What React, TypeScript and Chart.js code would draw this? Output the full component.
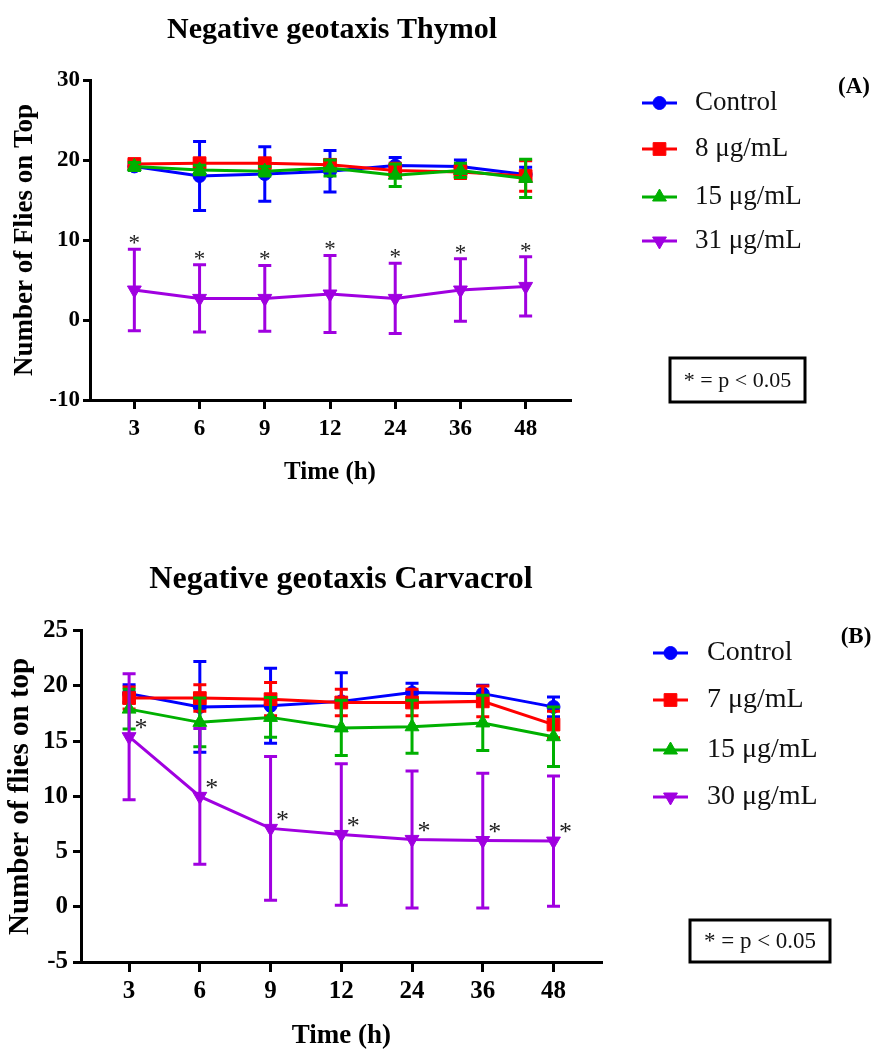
import React, { useEffect, useRef } from 'react';
import { Chart, registerables } from 'chart.js';
import { drawPoint } from 'chart.js/helpers';

Chart.register(...registerables);

// ---------- data ----------
const timeLabels = ['3', '6', '9', '12', '24', '36', '48'];

const thymolNames = ['Control', '8 μg/mL', '15 μg/mL', '31 μg/mL'];
const thymolControl = [19.2, 18.0, 18.25, 18.6, 19.3, 19.2, 18.2];
const thymolControlSd = [0.5, 4.3, 3.4, 2.6, 1.0, 0.8, 0.9];
const thymol8 = [19.5, 19.6, 19.6, 19.4, 18.7, 18.5, 18.0];
const thymol8Sd = [0.4, 0.5, 0.5, 0.6, 0.9, 0.8, 1.9];
const thymol15 = [19.2, 18.75, 18.6, 19.0, 18.1, 18.7, 17.7];
const thymol15Sd = [0.5, 0.6, 0.6, 1.0, 1.4, 0.9, 2.4];
const thymol31 = [3.75, 2.7, 2.7, 3.25, 2.7, 3.75, 4.2];
const thymol31Sd = [5.1, 4.2, 4.1, 4.8, 4.4, 3.9, 3.7];

const carvacrolNames = ['Control', '7 μg/mL', '15 μg/mL', '30 μg/mL'];
const carvacrolControl = [19.3, 18.1, 18.2, 18.6, 19.4, 19.3, 18.1];
const carvacrolControlSd = [0.8, 4.1, 3.4, 2.6, 0.85, 0.75, 0.9];
const carvacrol7 = [18.9, 18.9, 18.8, 18.5, 18.5, 18.6, 16.5];
const carvacrol7Sd = [1.0, 1.2, 1.5, 1.2, 1.2, 1.4, 1.2];
const carvacrol15 = [17.9, 16.7, 17.15, 16.2, 16.3, 16.65, 15.4];
const carvacrol15Sd = [1.8, 2.2, 1.8, 2.5, 2.4, 2.5, 2.7];
const carvacrol30 = [15.4, 10.0, 7.1, 6.55, 6.1, 6.0, 5.95];
const carvacrol30Sd = [5.7, 6.15, 6.5, 6.4, 6.2, 6.1, 5.9];

// ---------- styles ----------
const SERIF = "'Liberation Serif', 'Times New Roman', serif";
const colors = ['#0000FF', '#FF0000', '#00B000', '#A000E0'];
const pointStyles = [
  { pointStyle: 'circle', radius: 6.5, rotation: 0 },
  { pointStyle: 'rect', radius: 9, rotation: 0 },
  { pointStyle: 'triangle', radius: 8, rotation: 0 },
  { pointStyle: 'triangle', radius: 8, rotation: 180 },
];

Chart.defaults.font.family = SERIF;

type Panel = {
  title: string;
  titleX: number;
  titleY: number;
  titleSize: number;
  names: string[];
  means: number[][];
  sds: number[][];
  yTitle: string;
  yMin: number;
  yMax: number;
  yStep: number;
  canvasH: number;
  padding: { top: number; left: number; right: number; bottom: number };
  yAxisW: number;
  xAxisH: number;
  tickSize: number;
  axisTitleSize: number;
  yTitleSize: number;
  yTickLen: number;
  yTickPad: number;
  xTickLen: number;
  xTickPad: number;
  yTitlePad: number;
  xTitlePad: number;
  xTitleLineHeight: number;
  legendX: number;
  legendTextX: number;
  legendRows: number[];
  legendSize: number;
  tag: string;
  tagX: number;
  tagY: number;
  box: { x: number; y: number; w: number; h: number; size: number };
  starMode: 'above' | 'right';
  starSize: number;
};

const panelA: Panel = {
  title: 'Negative geotaxis Thymol',
  titleX: 332,
  titleY: 30,
  titleSize: 30,
  names: thymolNames,
  means: [thymolControl, thymol8, thymol15, thymol31],
  sds: [thymolControlSd, thymol8Sd, thymol15Sd, thymol31Sd],
  yTitle: 'Number of Flies on Top',
  yMin: -10,
  yMax: 30,
  yStep: 10,
  canvasH: 540,
  padding: { top: 80, left: 0, right: 307, bottom: 50 },
  yAxisW: 90,
  xAxisH: 90,
  tickSize: 23,
  axisTitleSize: 25,
  yTitleSize: 27,
  yTickLen: 7,
  yTickPad: 3,
  xTickLen: 9,
  xTickPad: 6,
  yTitlePad: 9,
  xTitlePad: 2,
  xTitleLineHeight: 1.2,
  legendX: 642,
  legendTextX: 695,
  legendRows: [103, 149, 197, 241],
  legendSize: 27,
  tag: '(A)',
  tagX: 854,
  tagY: 87,
  box: { x: 670, y: 358, w: 135, h: 44, size: 22 },
  starMode: 'above',
  starSize: 23,
};

const panelB: Panel = {
  title: 'Negative geotaxis Carvacrol',
  titleX: 341,
  titleY: 40,
  titleSize: 32,
  names: carvacrolNames,
  means: [carvacrolControl, carvacrol7, carvacrol15, carvacrol30],
  sds: [carvacrolControlSd, carvacrol7Sd, carvacrol15Sd, carvacrol30Sd],
  yTitle: 'Number of flies on top',
  yMin: -5,
  yMax: 25,
  yStep: 5,
  canvasH: 510,
  padding: { top: 90.7, left: 0, right: 275.4, bottom: 0 },
  yAxisW: 81,
  xAxisH: 88,
  tickSize: 25,
  axisTitleSize: 27,
  yTitleSize: 29,
  yTickLen: 8,
  yTickPad: 5,
  xTickLen: 10,
  xTickPad: 5,
  yTitlePad: 3,
  xTitlePad: 0,
  xTitleLineHeight: 1.0,
  legendX: 653,
  legendTextX: 707,
  legendRows: [113, 160, 210, 257],
  legendSize: 28,
  tag: '(B)',
  tagX: 856,
  tagY: 97,
  box: { x: 690, y: 380, w: 140, h: 42, size: 23 },
  starMode: 'right',
  starSize: 26,
};

function decorPlugin(p: Panel) {
  return {
    id: 'decor',
    beforeDatasetDraw(chart: any, args: any) {
      const i = args.index;
      const meta = args.meta;
      const ys = chart.scales.y;
      const ctx = chart.ctx;
      ctx.save();
      ctx.strokeStyle = colors[i];
      ctx.lineWidth = 3;
      ctx.lineCap = 'butt';
      p.means[i].forEach((m, j) => {
        const pt = meta.data[j];
        if (!pt) return;
        const sd = p.sds[i][j];
        const top = ys.getPixelForValue(m + sd);
        const bot = ys.getPixelForValue(m - sd);
        const x = pt.x;
        ctx.beginPath();
        ctx.moveTo(x, top);
        ctx.lineTo(x, bot);
        ctx.moveTo(x - 6.5, top);
        ctx.lineTo(x + 6.5, top);
        ctx.moveTo(x - 6.5, bot);
        ctx.lineTo(x + 6.5, bot);
        ctx.stroke();
      });
      ctx.restore();
    },
    afterDatasetsDraw(chart: any) {
      const ctx = chart.ctx;
      const ys = chart.scales.y;
      ctx.save();
      // asterisks on the highest-dose series
      const last = p.means.length - 1;
      const meta = chart.getDatasetMeta(last);
      ctx.fillStyle = '#222';
      ctx.font = `${p.starSize}px ${SERIF}`;
      ctx.textAlign = 'center';
      ctx.textBaseline = 'alphabetic';
      p.means[last].forEach((m, j) => {
        const pt = meta.data[j];
        if (!pt) return;
        if (p.starMode === 'above') {
          const capY = ys.getPixelForValue(m + p.sds[last][j]);
          ctx.fillText('*', pt.x, capY - 10 + 0.47 * p.starSize);
        } else {
          ctx.fillText('*', pt.x + 12, pt.y - 13 + 0.47 * p.starSize);
        }
      });

      // title
      ctx.fillStyle = '#000';
      ctx.font = `bold ${p.titleSize}px ${SERIF}`;
      ctx.textAlign = 'center';
      ctx.textBaseline = 'middle';
      ctx.fillText(p.title, p.titleX, p.titleY);

      // legend
      p.names.forEach((name, i) => {
        const y = p.legendRows[i];
        ctx.strokeStyle = colors[i];
        ctx.fillStyle = colors[i];
        ctx.lineWidth = 3;
        ctx.beginPath();
        ctx.moveTo(p.legendX, y);
        ctx.lineTo(p.legendX + 35, y);
        ctx.stroke();
        ctx.lineWidth = 1;
        drawPoint(ctx, { ...pointStyles[i], borderWidth: 1 } as any, p.legendX + 17.5, y);
        ctx.fillStyle = '#111';
        ctx.font = `${p.legendSize}px ${SERIF}`;
        ctx.textAlign = 'left';
        ctx.textBaseline = 'middle';
        ctx.fillText(name, p.legendTextX, y);
      });

      // panel tag
      ctx.fillStyle = '#000';
      ctx.font = `bold 23px ${SERIF}`;
      ctx.textAlign = 'center';
      ctx.textBaseline = 'middle';
      ctx.fillText(p.tag, p.tagX, p.tagY);

      // significance box
      const b = p.box;
      ctx.strokeStyle = '#000';
      ctx.lineWidth = 3;
      ctx.strokeRect(b.x, b.y, b.w, b.h);
      ctx.fillStyle = '#111';
      ctx.font = `${b.size}px ${SERIF}`;
      ctx.textAlign = 'center';
      ctx.textBaseline = 'middle';
      ctx.fillText('* = p < 0.05', b.x + b.w / 2, b.y + b.h / 2 + 1);
      ctx.restore();
    },
  };
}

function makeConfig(p: Panel): any {
  const datasets = p.names.map((name, i) => ({
    label: name,
    data: p.means[i].map((y, j) => ({ x: j, y })),
    borderColor: colors[i],
    backgroundColor: colors[i],
    borderWidth: 3,
    pointStyle: pointStyles[i].pointStyle,
    pointRadius: pointStyles[i].radius,
    pointRotation: pointStyles[i].rotation,
    pointBorderWidth: 1,
    pointBackgroundColor: colors[i],
    pointBorderColor: colors[i],
    tension: 0,
    order: p.names.length - i,
  }));
  return {
    type: 'line',
    data: { datasets },
    options: {
      animation: false,
      responsive: false,
      devicePixelRatio: 1,
      clip: false,
      layout: { padding: p.padding },
      plugins: { legend: { display: false }, tooltip: { enabled: false }, title: { display: false } },
      scales: {
        x: {
          type: 'linear',
          min: -0.68,
          max: 6.68,
          afterBuildTicks: (axis: any) => {
            axis.ticks = timeLabels.map((_, i) => ({ value: i }));
          },
          afterFit: (axis: any) => {
            axis.height = p.xAxisH;
          },
          ticks: {
            callback: (v: any) => timeLabels[v] ?? '',
            font: { size: p.tickSize, weight: 'bold', family: SERIF },
            color: '#000',
            padding: p.xTickPad,
            maxRotation: 0,
            autoSkip: false,
          },
          grid: {
            display: true,
            drawOnChartArea: false,
            drawTicks: true,
            tickLength: p.xTickLen,
            lineWidth: 3,
            color: '#000',
          },
          border: { display: true, color: '#000', width: 3 },
          title: {
            display: true,
            text: 'Time (h)',
            color: '#000',
            font: { size: p.axisTitleSize, weight: 'bold', family: SERIF, lineHeight: p.xTitleLineHeight },
            padding: { top: 0, bottom: p.xTitlePad },
          },
        },
        y: {
          min: p.yMin,
          max: p.yMax,
          afterFit: (axis: any) => {
            axis.width = p.yAxisW;
          },
          ticks: {
            stepSize: p.yStep,
            font: { size: p.tickSize, weight: 'bold', family: SERIF },
            color: '#000',
            padding: p.yTickPad,
          },
          grid: {
            display: true,
            drawOnChartArea: false,
            drawTicks: true,
            tickLength: p.yTickLen,
            lineWidth: 3,
            color: '#000',
          },
          border: { display: true, color: '#000', width: 3 },
          title: {
            display: true,
            text: p.yTitle,
            color: '#000',
            font: { size: p.yTitleSize, weight: 'bold', family: SERIF },
            padding: { top: p.yTitlePad, bottom: 0 },
          },
        },
      },
    },
    plugins: [decorPlugin(p)],
  };
}

function ChartPanel({ panel, top }: { panel: Panel; top: number }) {
  const ref = useRef<HTMLCanvasElement | null>(null);
  useEffect(() => {
    if (!ref.current) return;
    const chart = new Chart(ref.current, makeConfig(panel));
    return () => chart.destroy();
  }, [panel]);
  return (
    <canvas
      ref={ref}
      width={877}
      height={panel.canvasH}
      style={{ position: 'absolute', left: 0, top, width: 877, height: panel.canvasH, display: 'block' }}
    />
  );
}

export default function App() {
  return (
    <div style={{ position: 'absolute', left: 0, top: 0, width: 877, height: 1050, background: '#fff', overflow: 'hidden' }}>
      <ChartPanel panel={panelA} top={0} />
      <ChartPanel panel={panelB} top={540} />
    </div>
  );
}
